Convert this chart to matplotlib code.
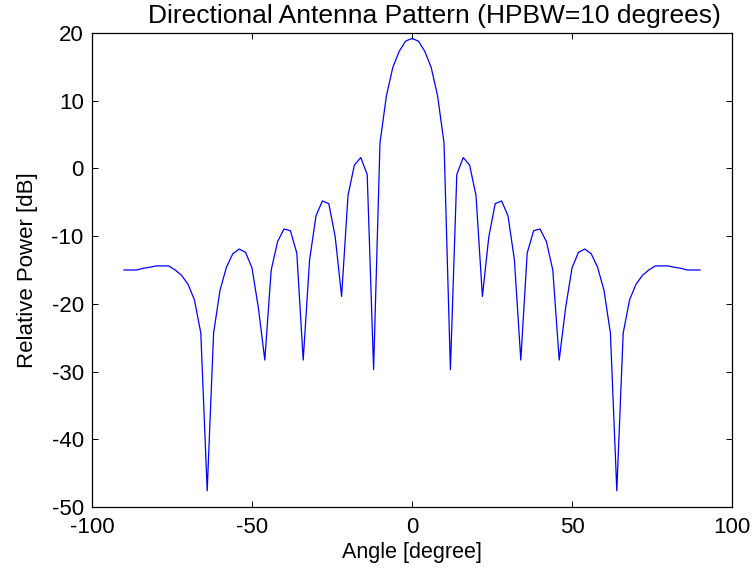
import matplotlib
matplotlib.use("Agg")
import matplotlib.pyplot as plt

angles = [-90, -88, -86, -84, -82, -80, -78, -76, -74, -72, -70, -68, -66, -64, -62,
          -60, -58, -56, -54, -52, -50, -48, -46, -44, -42, -40, -38, -36, -34, -32,
          -30, -28, -26, -24, -22, -20, -18, -16, -14, -12, -10, -8, -6, -4, -2,
          0,
          2, 4, 6, 8, 10, 12, 14, 16, 18, 20, 22, 24, 26, 28, 30,
          32, 34, 36, 38, 40, 42, 44, 46, 48, 50, 52, 54, 56, 58, 60,
          62, 64, 66, 68, 70, 72, 74, 76, 78, 80, 82, 84, 86, 88, 90]

power_db = [-15.0, -15.0, -15.0, -14.75, -14.6, -14.4, -14.4, -14.4, -15.0, -15.8, -17.1, -19.4, -24.3, -47.6, -24.3,
            -18.0, -14.6, -12.6, -11.9, -12.4, -14.7, -20.6, -28.3, -15.0, -10.8, -8.95, -9.2, -12.5, -28.3, -13.5,
            -7.0, -4.8, -5.2, -10.1, -18.9, -4.0, 0.5, 1.6, -0.9, -29.7, 3.8, 10.7, 14.9, 17.3, 18.8,
            19.2,
            18.8, 17.3, 14.9, 10.7, 3.8, -29.7, -0.9, 1.6, 0.5, -4.0, -18.9, -10.1, -5.2, -4.8, -7.0,
            -13.5, -28.3, -12.5, -9.2, -8.95, -10.8, -15.0, -28.3, -20.6, -14.7, -12.4, -11.9, -12.6, -14.6, -18.0,
            -24.3, -47.6, -24.3, -19.4, -17.1, -15.8, -15.0, -14.4, -14.4, -14.4, -14.6, -14.75, -15.0, -15.0, -15.0]

x_ticks = [-100, -50, 0, 50, 100]
y_ticks = [-50, -40, -30, -20, -10, 0, 10, 20]

plt.rcParams['font.family'] = ['Liberation Sans', 'DejaVu Sans']
plt.rcParams['axes.unicode_minus'] = False

fig = plt.figure(figsize=(7.56, 5.73), dpi=100)
ax = fig.add_axes([92/756, 66/573, 640/756, 474/573])
ax.plot(angles, power_db, color=(0, 0, 1), linewidth=0.9)
ax.set_xlim(-100, 100)
ax.set_ylim(-50, 20)
ax.set_xticks(x_ticks)
ax.set_yticks(y_ticks)
ax.tick_params(direction='in', length=4.5, width=0.7, top=True, right=True,
               labelsize=16, pad=6)
ax.tick_params(axis='x', pad=7)
for s in ax.spines.values():
    s.set_linewidth(0.9)
fig.text(434/756, 1 - 16/573, 'Directional Antenna Pattern (HPBW=10 degrees)',
         fontsize=19, ha='center', va='center')
ax.set_xlabel('Angle [degree]', fontsize=15.5, labelpad=3)
ax.set_ylabel('Relative Power [dB]', fontsize=16, labelpad=10)

fig.savefig('out.png', dpi=100)
